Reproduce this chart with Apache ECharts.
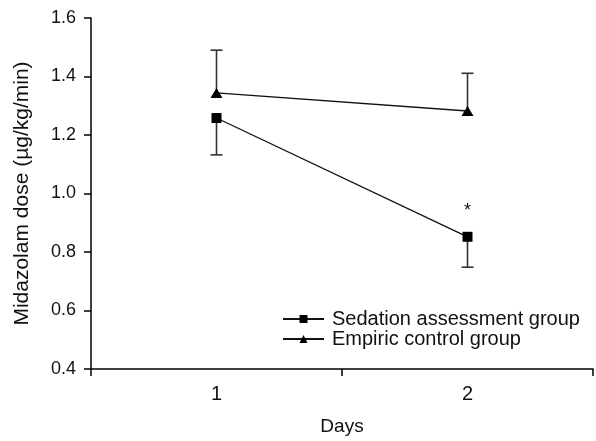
<!DOCTYPE html>
<html>
<head>
<meta charset="utf-8">
<script src="https://cdn.jsdelivr.net/npm/echarts@6/dist/echarts.min.js"></script>
<style>html,body{margin:0;padding:0;background:#fff}#c{width:596px;height:441px}</style>
</head>
<body>
<div id="c"></div>
<script>
var categories = ['1', '2'];
var sedation = [1.258, 0.852];
var sedationLower = [1.132, 0.748];
var empiric = [1.344, 1.282];
var empiricUpper = [1.49, 1.411];
var yTicks = [0.4, 0.6, 0.8, 1.0, 1.2, 1.4, 1.6];

var chart = echarts.init(document.getElementById('c'));
var font = 'Liberation Sans, Arial, sans-serif';

function errRender(isLower) {
  return function (params, api) {
    var i = api.value(0);
    var p1 = api.coord([i, api.value(1)]);
    var p2 = api.coord([i, api.value(2)]);
    var hw = 6;
    var capY = isLower ? p1[1] : p2[1];
    return {
      type: 'group',
      children: [
        {type: 'line', shape: {x1: p1[0], y1: p1[1], x2: p2[0], y2: p2[1]}, style: {stroke: '#333', lineWidth: 1.6}},
        {type: 'line', shape: {x1: p1[0] - hw, y1: capY, x2: p1[0] + hw, y2: capY}, style: {stroke: '#333', lineWidth: 1.6}}
      ]
    };
  };
}

var sedErr = categories.map(function (c, i) { return [i, sedationLower[i], sedation[i]]; });
var empErr = categories.map(function (c, i) { return [i, empiric[i], empiricUpper[i]]; });

chart.setOption({
  animation: false,
  textStyle: {fontFamily: font},
  grid: {left: 91, right: 3, top: 18, bottom: 72},
  legend: {
    left: 277, top: 304, orient: 'vertical', itemGap: 0,
    itemWidth: 41, itemHeight: 10,
    textStyle: {fontFamily: font, fontSize: 20, color: '#111', padding: [0, 0, 0, 3]},
    data: ['Sedation assessment group', 'Empiric control group']
  },
  xAxis: {
    type: 'category', data: categories, boundaryGap: true,
    name: 'Days', nameLocation: 'middle', nameGap: 48,
    nameTextStyle: {fontFamily: font, fontSize: 19, color: '#111'},
    axisLine: {lineStyle: {color: '#000', width: 1.5}},
    axisTick: {show: true, length: 7, inside: false, lineStyle: {color: '#000', width: 1.5}},
    axisLabel: {fontFamily: font, fontSize: 20, color: '#111', margin: 15}
  },
  yAxis: {
    type: 'value', min: 0.4, max: 1.6, interval: 0.2,
    name: 'Midazolam dose (µg/kg/min)', nameLocation: 'middle', nameGap: 58,
    nameTextStyle: {fontFamily: font, fontSize: 21, color: '#111'},
    splitLine: {show: false},
    axisLine: {show: true, lineStyle: {color: '#000', width: 1.5}},
    axisTick: {show: true, length: 7, lineStyle: {color: '#000', width: 1.5}},
    axisLabel: {fontFamily: font, fontSize: 18, color: '#111', margin: 15,
      formatter: function (v) { return v.toFixed(1); }}
  },
  series: [
    {
      type: 'custom', renderItem: errRender(true), data: sedErr, z: 1,
      encode: {x: 0, y: [1, 2]}, silent: true
    },
    {
      type: 'custom', renderItem: errRender(false), data: empErr, z: 1,
      encode: {x: 0, y: [1, 2]}, silent: true
    },
    {
      name: 'Sedation assessment group', type: 'line', z: 3,
      data: sedation.map(function (v, i) {
        return i === 1 ? {value: v, label: {show: true, formatter: '*', position: 'top', distance: 12, fontSize: 18, color: '#111'}} : v;
      }),
      symbol: 'rect', symbolSize: 10,
      lineStyle: {color: '#111', width: 1.3},
      itemStyle: {color: '#000'}
    },
    {
      name: 'Empiric control group', type: 'line', z: 3,
      data: empiric,
      symbol: 'triangle', symbolSize: [12, 10],
      lineStyle: {color: '#111', width: 1.3},
      itemStyle: {color: '#000'}
    }
  ]
});
</script>
</body>
</html>
